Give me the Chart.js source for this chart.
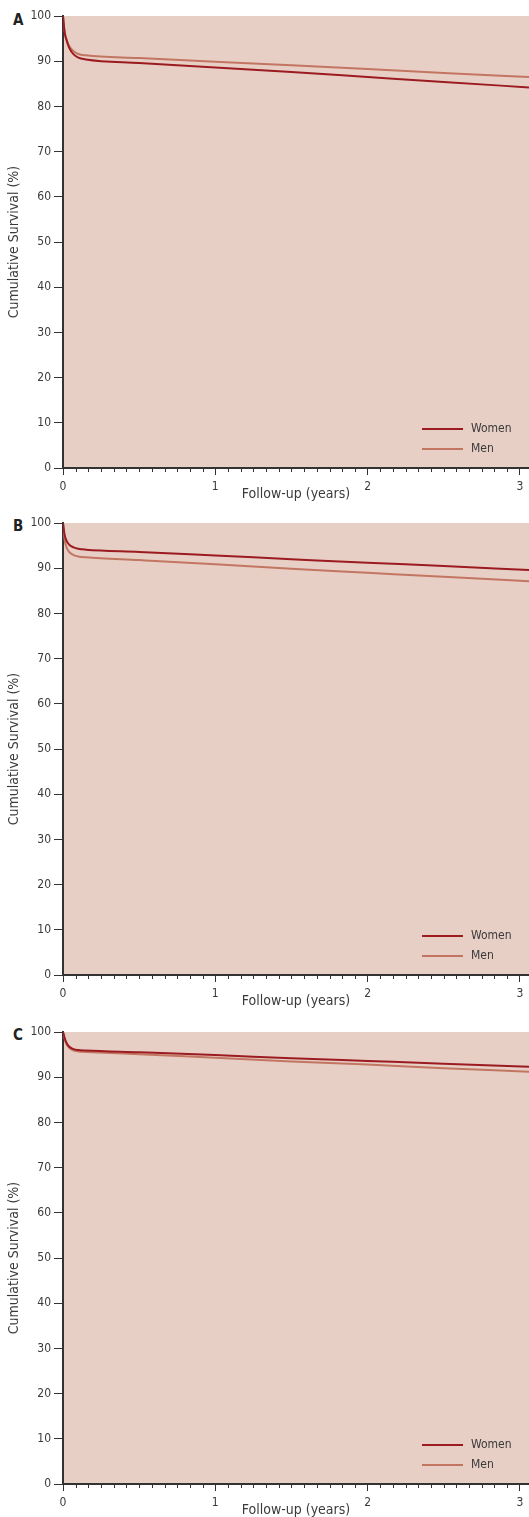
<!DOCTYPE html>
<html><head><meta charset="utf-8">
<script src="https://cdn.jsdelivr.net/npm/chart.js@4"></script>
<style>
body{margin:0;background:#fff;width:529px;height:1517px;overflow:hidden;position:relative}
canvas{position:absolute;left:0}
.lbl{position:absolute;left:13px;font:bold 15px "Liberation Sans Narrow","DejaVu Sans Condensed",sans-serif;color:#222}
</style></head><body>
<div class="lbl" style="top:11px">A</div>
<div class="lbl" style="top:517px">B</div>
<div class="lbl" style="top:1026px">C</div>
<canvas id="cA" width="529" height="505" style="top:0"></canvas>
<canvas id="cB" width="529" height="505" style="top:507px"></canvas>
<canvas id="cC" width="529" height="505" style="top:1016px"></canvas>
<script>
const years = [0, 0.01, 0.02, 0.04, 0.07, 0.1, 0.15, 0.5, 1, 1.5, 2, 2.5, 3.06];
const womenA = [100, 96.5, 95.0, 93.0, 91.5, 90.8, 90.4, 89.6, 88.6, 87.6, 86.5, 85.4, 84.2];
const menA   = [100, 96.8, 95.2, 93.4, 92.2, 91.6, 91.3, 90.7, 89.9, 89.1, 88.3, 87.4, 86.5];
const womenB = [100, 97.5, 96.3, 95.2, 94.6, 94.3, 94.1, 93.6, 92.8, 92.0, 91.2, 90.5, 89.6];
const menB   = [100, 96.5, 94.9, 93.6, 92.9, 92.6, 92.4, 91.8, 90.9, 89.9, 89.0, 88.1, 87.1];
const womenC = [100, 98.8, 97.8, 96.8, 96.2, 96.0, 95.9, 95.5, 94.9, 94.2, 93.6, 93.0, 92.3];
const menC   = [100, 98.6, 97.5, 96.5, 95.9, 95.7, 95.6, 95.1, 94.3, 93.5, 92.8, 92.0, 91.2];
const xTickLabels = [0, 1, 2, 3];
const seriesNames = ['Women', 'Men'];

const FONT = '"Liberation Sans Narrow","DejaVu Sans Condensed",sans-serif';
const TXT = '#3a3a3a';
const AX = '#333333';
const WCOL = '#9b1b20';
const MCOL = '#c27662';

const bgPlugin = {id:'bg', beforeDraw(c){const a=c.chartArea;const x=c.ctx;x.save();x.fillStyle='#e8cfc6';x.fillRect(a.left,a.top,a.right-a.left,a.bottom-a.top);x.restore();}};
const minorPlugin = {id:'minor', afterDraw(c){const s=c.scales.x;const x=c.ctx;x.save();x.strokeStyle=AX;x.lineWidth=1;
  for(let k=1;k<36;k++){if(k%12===0)continue;const px=Math.round(s.getPixelForValue(k/12))+0.5;x.beginPath();x.moveTo(px,c.chartArea.bottom);x.lineTo(px,c.chartArea.bottom+4);x.stroke();}
  x.restore();}};
const legendPlugin = {id:'leg', afterDatasetsDraw(c){const x=c.ctx;const b=c.chartArea.bottom;x.save();
  c.data.datasets.forEach((d,i)=>{const y=b-39+i*20;x.strokeStyle=d.borderColor;x.lineWidth=2;x.beginPath();x.moveTo(422,y);x.lineTo(463,y);x.stroke();
   x.fillStyle=TXT;x.font='12px '+FONT;x.textBaseline='middle';x.fillText(d.label,471,y);});
  x.restore();}};

function makeChart(id, w, m){
  new Chart(document.getElementById(id), {
    type:'line',
    data:{datasets:[
      {label:seriesNames[0], data:years.map((v,i)=>({x:v,y:w[i]})), borderColor:WCOL, borderWidth:2, pointRadius:0, cubicInterpolationMode:'monotone', fill:false},
      {label:seriesNames[1], data:years.map((v,i)=>({x:v,y:m[i]})), borderColor:MCOL, borderWidth:2, pointRadius:0, cubicInterpolationMode:'monotone', fill:false}
    ]},
    options:{
      responsive:false, animation:false, devicePixelRatio:1,
      layout:{padding:{top:16,left:0,right:0,bottom:0}},
      plugins:{legend:{display:false}, tooltip:{enabled:false}},
      scales:{
        x:{type:'linear', min:0, max:3.06,
          afterBuildTicks:s=>{s.ticks=xTickLabels.map(v=>({value:v}));},
          grid:{drawOnChartArea:false, tickLength:7, color:AX, tickColor:AX},
          border:{display:true, color:AX, width:2},
          ticks:{font:{family:FONT,size:12}, color:TXT, padding:5, maxRotation:0, autoSkip:false},
          title:{display:true, text:'Follow-up (years)', font:{family:FONT,size:14}, color:TXT, padding:{top:0,bottom:2}},
          afterFit:s=>{s.height=37;}
        },
        y:{min:0, max:100,
          ticks:{stepSize:10, font:{family:FONT,size:12}, color:TXT, padding:3},
          grid:{drawOnChartArea:false, tickLength:9, color:AX, tickColor:AX},
          border:{display:true, color:AX, width:2},
          title:{display:true, text:'Cumulative Survival (%)', font:{family:FONT,size:14}, color:TXT, padding:{top:6,bottom:0}},
          afterFit:s=>{s.width=63;}
        }
      }
    },
    plugins:[bgPlugin, minorPlugin, legendPlugin]
  });
}
makeChart('cA', womenA, menA);
makeChart('cB', womenB, menB);
makeChart('cC', womenC, menC);
</script>
</body></html>
